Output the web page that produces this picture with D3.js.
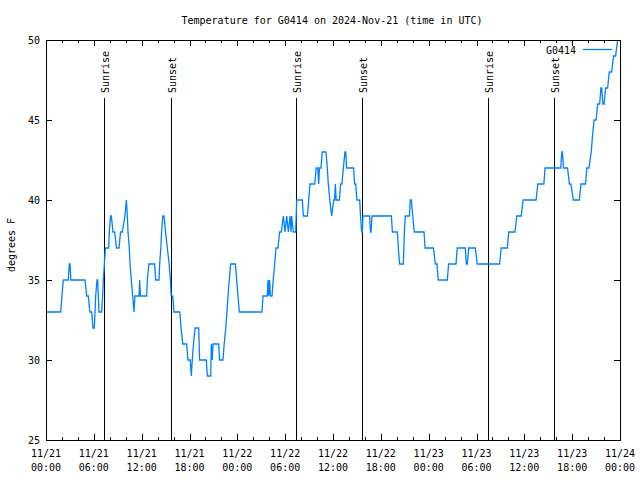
<!DOCTYPE html>
<html><head><meta charset="utf-8">
<script src="https://cdn.jsdelivr.net/npm/d3@7/dist/d3.min.js"></script>
<style>
body{margin:0;background:#fff}
text{font-family:"DejaVu Sans Mono","Liberation Mono",monospace;font-size:10px;fill:#000}
</style>
</head><body>
<svg id="chart" width="640" height="480"></svg>
<script>
// ---- data ----
const chartTitle = "Temperature for G0414 on 2024-Nov-21 (time in UTC)";
const seriesName = "G0414";
const yTitle = "degrees F";
// hours since 2024-11-21 00:00 UTC
const hours = [0,1.84,2.0,2.17,2.8,2.92,3.01,3.12,4.89,5.1,5.31,5.5,5.73,5.9,6.06,6.15,6.23,6.4,6.48,6.56,6.65,6.98,7.1,7.19,7.32,7.45,7.86,7.94,8.1,8.2,8.4,8.61,8.85,9.16,9.35,9.58,9.9,10.08,10.2,10.29,10.45,10.54,10.7,10.87,11.04,11.15,11.67,11.75,11.85,12.63,12.71,12.9,13.63,13.76,14.17,14.26,14.4,14.5,14.65,14.8,15.0,15.22,15.45,15.6,15.7,15.9,16.05,16.78,16.95,17.16,17.64,17.8,18.1,18.23,18.35,18.5,18.7,19.15,19.27,20.11,20.24,20.66,20.7,20.74,20.85,20.95,21.66,21.78,22.2,22.35,22.55,22.7,22.83,22.99,23.16,23.75,23.92,24.08,24.25,27.09,27.22,27.76,27.85,27.95,28.05,28.15,28.35,28.5,28.68,28.85,29.1,29.3,29.52,29.77,29.98,30.19,30.4,30.61,30.73,30.81,31.03,31.32,31.38,31.45,32.15,32.28,32.78,32.95,33.12,33.7,33.9,34.1,34.2,34.3,34.5,34.65,35.12,35.29,35.41,35.6,35.83,36.09,36.2,36.29,36.4,36.8,36.95,37.13,37.3,37.5,37.6,37.7,38.59,38.7,38.85,39.0,39.35,39.45,39.6,39.68,39.76,40.6,40.7,40.77,40.9,43.32,43.45,44.07,44.2,44.35,44.82,44.95,45.07,45.58,45.7,45.83,46.0,46.2,47.42,47.55,48.6,48.84,49.05,49.2,50.34,50.5,51.43,51.58,52.6,52.72,52.85,53.02,53.85,54.1,56.9,57.1,57.87,58.05,58.83,59.05,59.61,59.85,61.48,61.69,62.45,62.6,64.57,64.7,64.78,64.91,65.42,65.65,65.84,66.15,66.9,67.1,67.67,67.84,68.1,68.39,68.55,68.75,69.0,69.2,69.45,69.6,69.7,69.85,70.0,70.2,70.45,70.65,70.95,71.2,71.45,71.7,71.95];
const temps = [33,33,34,35,35,36,36,35,35,34,34,33,33,32,32,33,34,35,35,34,33,33,34,35,36,37,37,38,39,39,38,38,37,37,38,38,39,40,39,38,37,36,35,34,33,34,34,35,34,34,35,36,36,35,35,36,37,38,39,39,38,37,36,35,34,34,33,33,32,31,31,30,30,29,30,31,32,32,30,30,29,29,30,31,30,31,31,30,30,31,32,33,34,35,36,36,35,34,33,33,34,34,35,34,35,34,34,35,36,37,37,38,38,39,38,39,38,39,38,39,38,38,39,40,40,39,39,40,41,41,42,42,41,42,42,43,43,42,41,40,39,40,40,41,40,40,41,41,42,43,43,42,42,41,41,40,40,39,38,38,39,39,38,38,39,39,38,38,37,36,36,38,39,39,40,40,39,38,38,37,37,36,36,35,35,36,36,37,37,36,36,37,37,36,36,37,37,38,38,39,39,40,40,41,41,42,42,43,43,42,42,41,41,40,40,41,41,42,42,43,44,45,45,46,46,47,47,46,46,47,47,48,48,49,49,50,50.4];
const yTickValues = [25,30,35,40,45,50];
const xTickHours = [0,6,12,18,24,30,36,42,48,54,60,66,72];
const xTickDates = ["11/21","11/21","11/21","11/21","11/22","11/22","11/22","11/22","11/23","11/23","11/23","11/23","11/24"];
const xTickTimes = ["00:00","06:00","12:00","18:00","00:00","06:00","12:00","18:00","00:00","06:00","12:00","18:00","00:00"];
const sunHours = [7.28,15.64,31.36,39.64,55.48,63.7];
const sunLabels = ["Sunrise","Sunset","Sunrise","Sunset","Sunrise","Sunset"];

// ---- layout ----
const L=46, R=620, T=40, B=440;
const svg = d3.select("#chart");
const x = d3.scaleLinear().domain([0,72]).range([L,R]);
const y = d3.scaleLinear().domain([25,50]).range([B,T]);

svg.append("text").attr("x",332).attr("y",24).attr("text-anchor","middle").text(chartTitle);

svg.append("clipPath").attr("id","clip").append("rect").attr("x",L).attr("y",T).attr("width",R-L).attr("height",B-T);

const minorHours = d3.range(0,73,2).filter(h=>h%6!==0);
const g = svg.append("g").attr("shape-rendering","crispEdges");
g.append("g").attr("transform",`translate(0,${B})`)
  .call(d3.axisBottom(x).tickValues(minorHours).tickSize(-3).tickFormat(""))
  .call(s=>s.select(".domain").remove());
g.append("g").attr("transform",`translate(0,${T})`)
  .call(d3.axisTop(x).tickValues(minorHours).tickSize(-3).tickFormat(""))
  .call(s=>s.select(".domain").remove());
g.append("g").attr("transform",`translate(0,${B})`)
  .call(d3.axisBottom(x).tickValues(xTickHours).tickSize(-6).tickFormat(""))
  .call(s=>s.select(".domain").remove());
g.append("g").attr("transform",`translate(0,${T})`)
  .call(d3.axisTop(x).tickValues(xTickHours).tickSize(-6).tickFormat(""))
  .call(s=>s.select(".domain").remove());
g.append("g").attr("transform",`translate(${L},0)`)
  .call(d3.axisLeft(y).tickValues(yTickValues).tickSize(-6).tickFormat(""))
  .call(s=>s.select(".domain").remove());
g.append("g").attr("transform",`translate(${R},0)`)
  .call(d3.axisRight(y).tickValues(yTickValues).tickSize(-6).tickFormat(""))
  .call(s=>s.select(".domain").remove());
g.selectAll("line").attr("stroke","#000");

svg.selectAll(".yl").data(yTickValues).join("text")
  .attr("x",L-6).attr("y",d=>y(d)).attr("dy","0.35em").attr("text-anchor","end").text(d=>d);
svg.append("text").attr("transform","translate(11,245) rotate(-90)").attr("text-anchor","middle").attr("dy","0.35em").text(yTitle);

xTickHours.forEach((h,i)=>{
  svg.append("text").attr("x",x(h)).attr("y",457).attr("text-anchor","middle").text(xTickDates[i]);
  svg.append("text").attr("x",x(h)).attr("y",471).attr("text-anchor","middle").text(xTickTimes[i]);
});

sunHours.forEach((h,i)=>{
  const xp = Math.round(x(h))+0.5;
  svg.append("line").attr("x1",xp).attr("x2",xp).attr("y1",98).attr("y2",B).attr("stroke","#000").attr("stroke-width",1).attr("shape-rendering","crispEdges");
  svg.append("text").attr("transform",`translate(${xp+4},93) rotate(-90)`).attr("text-anchor","start").text(sunLabels[i]);
});

const pts = hours.map((h,i)=>[h,temps[i]]);
svg.append("path").datum(pts).attr("clip-path","url(#clip)")
  .attr("fill","none").attr("stroke","#0080ff").attr("stroke-width",1.3)
  .attr("d",d3.line().x(d=>x(d[0])).y(d=>y(d[1])));

svg.append("rect").attr("x",L+0.5).attr("y",T+0.5).attr("width",R-L).attr("height",B-T)
  .attr("fill","none").attr("stroke","#000").attr("shape-rendering","crispEdges");

svg.append("text").attr("x",576).attr("y",50).attr("dy","0.35em").attr("text-anchor","end").text(seriesName);
svg.append("line").attr("x1",583).attr("x2",612).attr("y1",49.5).attr("y2",49.5).attr("stroke","#0080ff").attr("stroke-width",1.3);
</script>
</body></html>
